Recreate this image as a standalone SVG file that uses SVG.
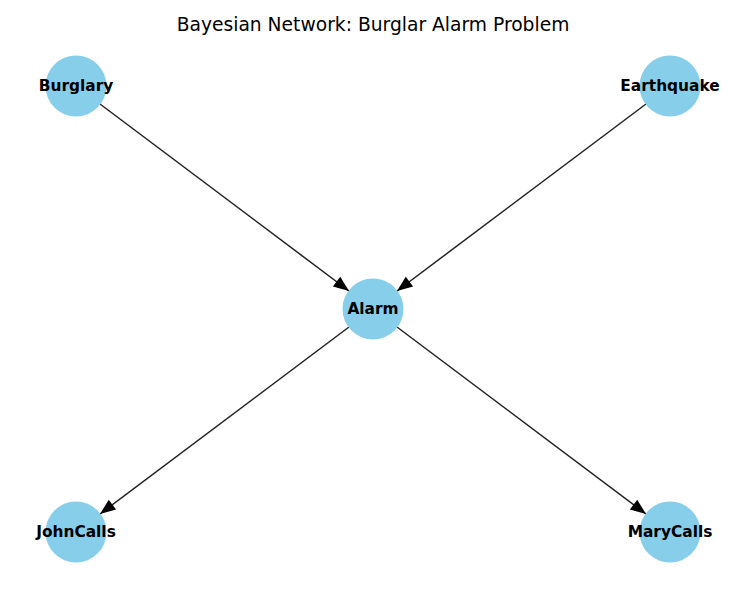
<svg xmlns="http://www.w3.org/2000/svg" width="738" height="596" viewBox="0 0 738 596">
<style>
.node{fill:#87ceeb}
.lbl{font-family:"DejaVu Sans",sans-serif;font-weight:bold;font-size:15.4px;fill:#000;text-anchor:middle;dominant-baseline:central}
.edge{stroke:#222;stroke-width:1.5;fill:none;marker-end:url(#ah)}
.title{font-family:"DejaVu Sans",sans-serif;font-size:18.7px;fill:#000;text-anchor:middle}
</style>
<defs>
<marker id="ah" markerUnits="userSpaceOnUse" markerWidth="20" markerHeight="20" viewBox="-16 -8 18 16" refX="0" refY="0" orient="auto">
<path d="M0,0 L-14,-5.5 L-14,5.5 z" fill="#000"/>
</marker>
</defs>
<rect width="738" height="596" fill="#fff"/>
<text class="title" x="373" y="31">Bayesian Network: Burglar Alarm Problem</text>
<g id="connectors">
<line class="edge" x1="100" y1="104" x2="349" y2="291"/>
<line class="edge" x1="646" y1="104" x2="397" y2="291"/>
<line class="edge" x1="349" y1="327" x2="100" y2="514"/>
<line class="edge" x1="397" y1="327" x2="646" y2="514"/>
</g>
<g id="node-burglary"><circle class="node" cx="76" cy="86" r="30.5"/><text class="lbl" x="76" y="86">Burglary</text></g>
<g id="node-earthquake"><circle class="node" cx="670" cy="86" r="30.5"/><text class="lbl" x="670" y="86">Earthquake</text></g>
<g id="node-alarm"><circle class="node" cx="373" cy="309" r="30.5"/><text class="lbl" x="373" y="309">Alarm</text></g>
<g id="node-johncalls"><circle class="node" cx="76" cy="532" r="30.5"/><text class="lbl" x="76" y="532">JohnCalls</text></g>
<g id="node-marycalls"><circle class="node" cx="670" cy="532" r="30.5"/><text class="lbl" x="670" y="532">MaryCalls</text></g>
</svg>
